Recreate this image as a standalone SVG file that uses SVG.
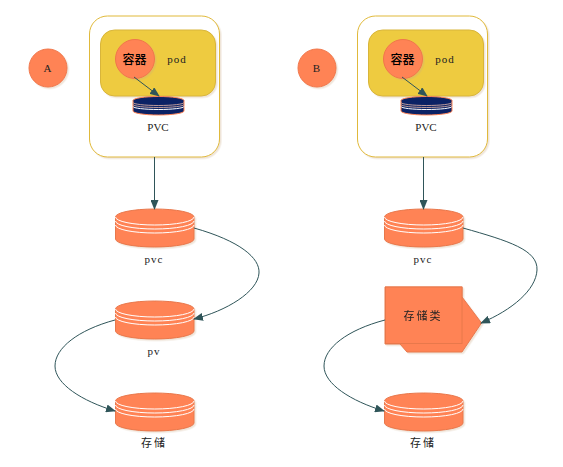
<svg xmlns="http://www.w3.org/2000/svg" xmlns:xlink="http://www.w3.org/1999/xlink" width="563" height="467" viewBox="0 0 563 467">
<style>
.t{font-family:"Liberation Serif","Noto Sans CJK SC",serif;font-size:11px;fill:#222;text-anchor:middle;letter-spacing:1px}
.c{font-family:"Noto Sans CJK SC","Liberation Serif",sans-serif;font-size:11px;fill:#222;text-anchor:middle;letter-spacing:1px}
.b{font-family:"Noto Sans CJK SC","Liberation Serif",sans-serif;font-size:12px;font-weight:500;fill:#000;text-anchor:middle}
.conn{fill:none;stroke:#2f5559;stroke-width:1}
.frame{fill:#fff;stroke:#e0b93a;stroke-width:1;filter:url(#soft)}
.pod{fill:#eecb40;stroke:#d8b53a;stroke-width:1;filter:url(#soft)}
.circ{fill:#ff8355;stroke:#f0764a;stroke-width:1;filter:url(#soft)}
.shape{fill:#ff8355;stroke:#e8784c;stroke-width:1}
.ring{fill:none;stroke:#fff;stroke-width:1}
</style>
<defs>
<filter id="soft" x="-10%" y="-10%" width="125%" height="125%"><feDropShadow dx="1.500" dy="1.500" stdDeviation="0.500" flood-color="#c9a880" flood-opacity="0.300"/></filter>
<marker id="arr" viewBox="0 0 10 8" refX="9" refY="4" markerWidth="10" markerHeight="8" markerUnits="userSpaceOnUse" orient="auto"><path d="M0 0L10 4L0 8Z" fill="#2f5559"/></marker>
<g id="cyl" filter="url(#soft)">
<path class="shape" d="M115.500 217A39.250 8 0 0 1 194 217V239A39.250 8 0 0 1 115.500 239Z"/>
<path class="ring" d="M115.500 217A39.250 8 0 0 0 194 217M115.500 221A39.250 8 0 0 0 194 221M115.500 225A39.250 8 0 0 0 194 225"/>
</g>
<g id="mini">
<path d="M133 100.500A25.500 4 0 0 1 184 100.500V111A25.500 4 0 0 1 133 111Z" fill="#0b2265" stroke="#ff8355" stroke-width="1"/>
<path d="M133 102.500A25.500 3 0 0 0 184 102.500M133 104.500A25.500 3 0 0 0 184 104.500" fill="none" stroke="#e9b9a8" stroke-width="0.800"/>
<path d="M133 106.500A25.500 3 0 0 0 184 106.500" fill="none" stroke="#fff" stroke-width="1"/>
</g>
</defs>
<g id="circle-a"><circle class="circ" cx="48" cy="68" r="19"/><text class="t" x="48" y="72">A</text></g>
<g id="circle-b"><circle class="circ" cx="317" cy="68" r="19"/><text class="t" x="317" y="72">B</text></g>
<g id="frame-a"><rect class="frame" x="89.500" y="16" width="130" height="141" rx="18"/></g>
<g id="frame-b"><rect class="frame" x="357.500" y="16" width="130" height="141" rx="18"/></g>
<g id="pod-a"><rect class="pod" x="100.500" y="30" width="115" height="66" rx="14"/><text class="t" x="177" y="63">pod</text></g>
<g id="pod-b"><rect class="pod" x="368.500" y="30" width="115" height="66" rx="14"/><text class="t" x="445" y="63">pod</text></g>
<g id="pvc-small-a"><use xlink:href="#mini"/><text class="t" x="158" y="130.500" style="letter-spacing:0">PVC</text></g>
<g id="pvc-small-b"><use xlink:href="#mini" x="268"/><text class="t" x="426" y="130.500" style="letter-spacing:0">PVC</text></g>
<g id="container-a"><circle class="circ" cx="135" cy="59" r="19.500"/><text class="b" x="134.500" y="63.500">容器</text></g>
<g id="container-b"><circle class="circ" cx="403" cy="59" r="19.500"/><text class="b" x="402.500" y="63.500">容器</text></g>
<g id="pvc-a"><use xlink:href="#cyl"/><text class="t" x="154" y="263">pvc</text></g>
<g id="pv-a"><use xlink:href="#cyl" y="92"/><text class="t" x="154" y="355">pv</text></g>
<g id="store-a"><use xlink:href="#cyl" y="184"/><text class="c" x="154" y="447" style="letter-spacing:2px">存储</text></g>
<g id="pvc-b"><use xlink:href="#cyl" x="269"/><text class="t" x="423" y="263">pvc</text></g>
<g id="sc-b" filter="url(#soft)">
<path class="shape" d="M400 344L407 352H462L481.500 323L462 297V287H385V344Z"/>
<rect class="shape" x="385.500" y="287" width="76.500" height="56.500"/>
<text class="c" x="423" y="320" style="letter-spacing:2px">存储类</text>
</g>
<g id="store-b"><use xlink:href="#cyl" x="269" y="184"/><text class="c" x="423" y="447" style="letter-spacing:2px">存储</text></g>
<g id="connectors">
<path class="conn" marker-end="url(#arr)" d="M154.500 157V209"/>
<path class="conn" marker-end="url(#arr)" d="M423.500 157V209"/>
<path class="conn" marker-end="url(#arr)" d="M134 77L159 96"/>
<path class="conn" marker-end="url(#arr)" d="M402 77L427 96"/>
<path class="conn" marker-end="url(#arr)" d="M194 228C240 241 260 258 259 273C258 292 226 311 194 319"/>
<path class="conn" marker-end="url(#arr)" d="M463 228C509 241 538 250 537 270C536 290 512 310 481 323"/>
<path class="conn" marker-end="url(#arr)" d="M115 320C78 330 55 348 55 366C55 384 82 401 115 411"/>
<path class="conn" marker-end="url(#arr)" d="M385 320C347 330 324 348 324 366C324 384 351 401 384 411"/>
</g>
</svg>
